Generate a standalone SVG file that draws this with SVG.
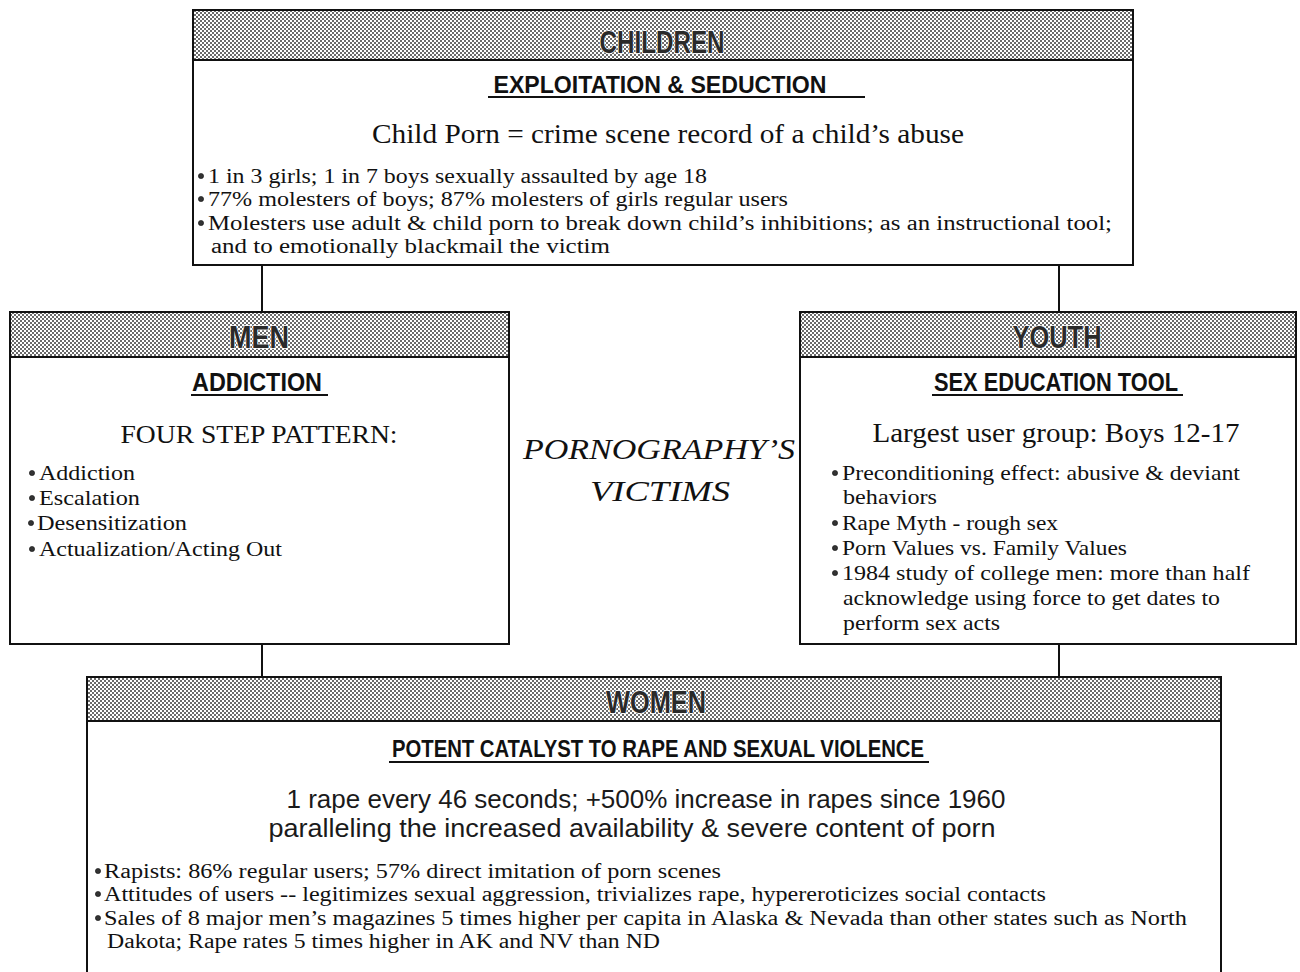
<svg xmlns="http://www.w3.org/2000/svg" width="1300" height="972" viewBox="0 0 1300 972">
<defs>
<pattern id="dots" width="4" height="4" patternUnits="userSpaceOnUse">
<rect width="4" height="4" fill="#ffffff"/>
<rect x="0" y="0" width="2" height="2" fill="#6a6a6a"/>
<rect x="2" y="2" width="2" height="2" fill="#6a6a6a"/>
</pattern>
</defs>
<style>
.box{fill:#fff;stroke:#111;stroke-width:2}
.hdr{fill:url(#dots);stroke:#111;stroke-width:2}
.ttl{font-family:"Liberation Sans Narrow","Liberation Sans",sans-serif;font-weight:bold;fill:#2a2a2a;stroke:#fff;stroke-width:1.5;paint-order:stroke;text-anchor:middle}
.sub{font-family:"Liberation Sans Narrow","Liberation Sans",sans-serif;font-weight:bold;fill:#111;text-anchor:middle}
.ul{stroke:#111;stroke-width:2}
.lead{font-family:"Liberation Serif",serif;fill:#111;text-anchor:middle}
.sans{font-family:"Liberation Sans",sans-serif;fill:#1a1a1a;text-anchor:middle}
.bul{font-family:"Liberation Serif",serif;fill:#111}
.dot{fill:#333;stroke:#111;stroke-width:0.6}
.mid{font-family:"Liberation Serif",serif;font-style:italic;fill:#111;text-anchor:middle}
.con{stroke:#111;stroke-width:2;fill:none}
</style>
<rect width="1300" height="972" fill="#fff"/>
<g id="connectors">
<line class="con" x1="262" y1="265" x2="262" y2="312"/>
<line class="con" x1="1059" y1="265" x2="1059" y2="312"/>
<line class="con" x1="262" y1="644" x2="262" y2="677"/>
<line class="con" x1="1059" y1="644" x2="1059" y2="677"/>
</g>
<g id="children">
<rect class="box" x="193" y="10" width="940" height="255"/>
<rect class="hdr" x="193" y="10" width="940" height="50"/>
<text class="ttl" x="662" y="53" font-size="31" textLength="125" lengthAdjust="spacingAndGlyphs">CHILDREN</text>
<text class="sub" x="660" y="93" font-size="24" textLength="333" lengthAdjust="spacingAndGlyphs">EXPLOITATION &amp; SEDUCTION</text>
<line class="ul" x1="488" y1="97" x2="865" y2="97"/>
<text class="lead" x="668" y="143" font-size="27" textLength="592" lengthAdjust="spacingAndGlyphs">Child Porn = crime scene record of a child’s abuse</text>
<circle class="dot" cx="201" cy="176" r="2.6"/>
<text class="bul" x="208" y="183" font-size="20" textLength="499" lengthAdjust="spacingAndGlyphs">1 in 3 girls; 1 in 7 boys sexually assaulted by age 18</text>
<circle class="dot" cx="201" cy="199" r="2.6"/>
<text class="bul" x="208" y="206" font-size="20" textLength="580" lengthAdjust="spacingAndGlyphs">77% molesters of boys; 87% molesters of girls regular users</text>
<circle class="dot" cx="201" cy="223" r="2.6"/>
<text class="bul" x="208" y="230" font-size="20" textLength="904" lengthAdjust="spacingAndGlyphs">Molesters use adult &amp; child porn to break down child’s inhibitions; as an instructional tool;</text>
<text class="bul" x="211" y="253" font-size="20" textLength="399" lengthAdjust="spacingAndGlyphs">and to emotionally blackmail the victim</text>
</g>
<g id="men">
<rect class="box" x="10" y="312" width="499" height="332"/>
<rect class="hdr" x="10" y="312" width="499" height="45"/>
<text class="ttl" x="259" y="348" font-size="31" textLength="60" lengthAdjust="spacingAndGlyphs">MEN</text>
<text class="sub" x="257" y="391" font-size="25" textLength="130" lengthAdjust="spacingAndGlyphs">ADDICTION</text>
<line class="ul" x1="191" y1="395" x2="328" y2="395"/>
<text class="lead" x="259" y="443" font-size="26" textLength="277" lengthAdjust="spacingAndGlyphs">FOUR STEP PATTERN:</text>
<circle class="dot" cx="32" cy="473" r="2.6"/>
<text class="bul" x="39" y="480" font-size="21" textLength="96" lengthAdjust="spacingAndGlyphs">Addiction</text>
<circle class="dot" cx="32" cy="498" r="2.6"/>
<text class="bul" x="39" y="505" font-size="21" textLength="101" lengthAdjust="spacingAndGlyphs">Escalation</text>
<circle class="dot" cx="31" cy="523" r="2.6"/>
<text class="bul" x="37" y="530" font-size="21" textLength="150" lengthAdjust="spacingAndGlyphs">Desensitization</text>
<circle class="dot" cx="32" cy="549" r="2.6"/>
<text class="bul" x="39" y="556" font-size="21" textLength="243" lengthAdjust="spacingAndGlyphs">Actualization/Acting Out</text>
</g>
<g id="title">
<text class="mid" x="659" y="459" font-size="30" textLength="272" lengthAdjust="spacingAndGlyphs">PORNOGRAPHY’S</text>
<text class="mid" x="660" y="501" font-size="30" textLength="140" lengthAdjust="spacingAndGlyphs">VICTIMS</text>
</g>
<g id="youth">
<rect class="box" x="800" y="312" width="496" height="332"/>
<rect class="hdr" x="800" y="312" width="496" height="45"/>
<text class="ttl" x="1057" y="348" font-size="31" textLength="89" lengthAdjust="spacingAndGlyphs">YOUTH</text>
<text class="sub" x="1056" y="391" font-size="25" textLength="244" lengthAdjust="spacingAndGlyphs">SEX EDUCATION TOOL</text>
<line class="ul" x1="932" y1="395" x2="1183" y2="395"/>
<text class="lead" x="1056" y="442" font-size="27" textLength="367" lengthAdjust="spacingAndGlyphs">Largest user group: Boys 12-17</text>
<circle class="dot" cx="835" cy="473" r="2.6"/>
<text class="bul" x="842" y="480" font-size="22" textLength="398" lengthAdjust="spacingAndGlyphs">Preconditioning effect: abusive &amp; deviant</text>
<text class="bul" x="843" y="504" font-size="22" textLength="94" lengthAdjust="spacingAndGlyphs">behaviors</text>
<circle class="dot" cx="835" cy="523" r="2.6"/>
<text class="bul" x="842" y="530" font-size="22" textLength="216" lengthAdjust="spacingAndGlyphs">Rape Myth - rough sex</text>
<circle class="dot" cx="835" cy="548" r="2.6"/>
<text class="bul" x="842" y="555" font-size="22" textLength="285" lengthAdjust="spacingAndGlyphs">Porn Values vs. Family Values</text>
<circle class="dot" cx="835" cy="573" r="2.6"/>
<text class="bul" x="842" y="580" font-size="22" textLength="408" lengthAdjust="spacingAndGlyphs">1984 study of college men:  more than half</text>
<text class="bul" x="843" y="605" font-size="22" textLength="377" lengthAdjust="spacingAndGlyphs">acknowledge using force to get dates to</text>
<text class="bul" x="843" y="630" font-size="22" textLength="157" lengthAdjust="spacingAndGlyphs">perform sex acts</text>
</g>
<g id="women">
<rect class="box" x="87" y="677" width="1134" height="310"/>
<rect class="hdr" x="87" y="677" width="1134" height="44"/>
<text class="ttl" x="656" y="713" font-size="31" textLength="100" lengthAdjust="spacingAndGlyphs">WOMEN</text>
<text class="sub" x="658" y="757" font-size="24" textLength="532" lengthAdjust="spacingAndGlyphs">POTENT CATALYST TO RAPE AND SEXUAL VIOLENCE</text>
<line class="ul" x1="389" y1="762" x2="929" y2="762"/>
<text class="sans" x="646" y="808" font-size="26" textLength="719" lengthAdjust="spacingAndGlyphs">1 rape every 46 seconds; +500% increase in rapes since 1960</text>
<text class="sans" x="632" y="837" font-size="26" textLength="727" lengthAdjust="spacingAndGlyphs">paralleling the increased availability &amp; severe content of porn</text>
<circle class="dot" cx="98" cy="871" r="2.6"/>
<text class="bul" x="104" y="878" font-size="20" textLength="617" lengthAdjust="spacingAndGlyphs">Rapists:  86% regular users; 57% direct imitation of porn scenes</text>
<circle class="dot" cx="98" cy="894" r="2.6"/>
<text class="bul" x="104" y="901" font-size="20" textLength="942" lengthAdjust="spacingAndGlyphs">Attitudes of users -- legitimizes sexual aggression, trivializes rape, hypereroticizes social contacts</text>
<circle class="dot" cx="98" cy="918" r="2.6"/>
<text class="bul" x="104" y="925" font-size="20" textLength="1083" lengthAdjust="spacingAndGlyphs">Sales of 8 major men’s magazines 5 times higher per capita in Alaska &amp; Nevada than other states such as North</text>
<text class="bul" x="107" y="948" font-size="20" textLength="553" lengthAdjust="spacingAndGlyphs">Dakota; Rape rates 5 times higher in AK and NV than ND</text>
</g>
</svg>
